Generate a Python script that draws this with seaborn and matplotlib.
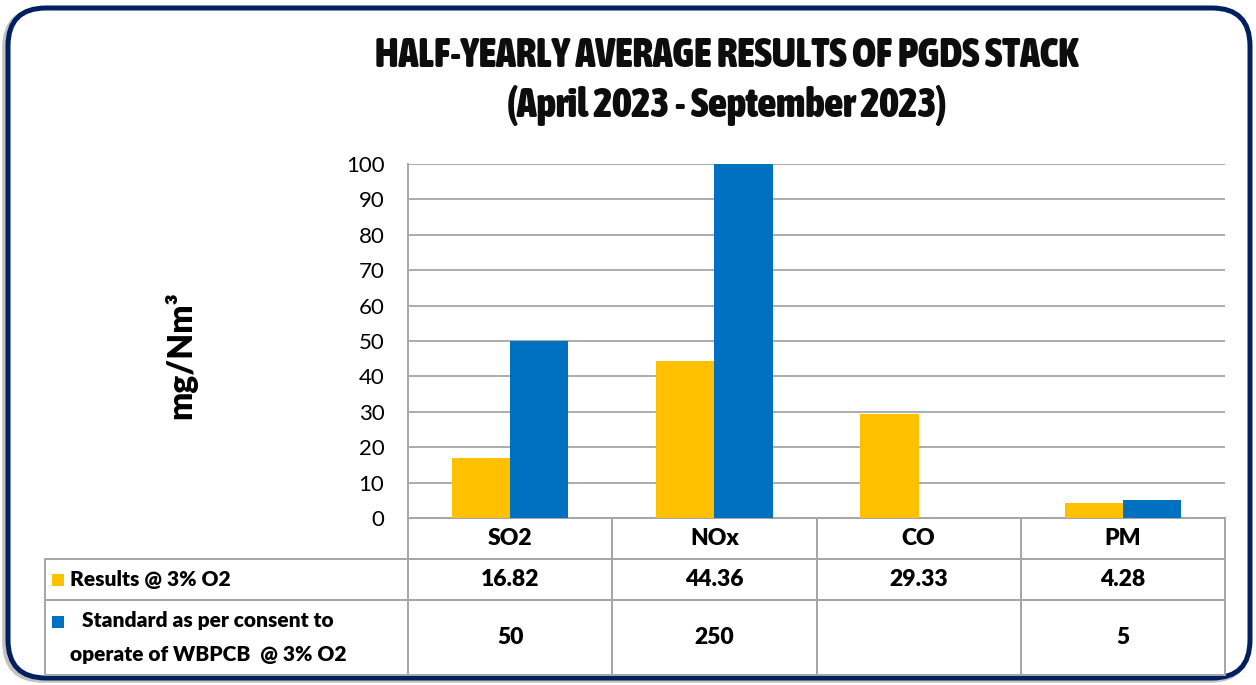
import matplotlib
matplotlib.use("Agg")
import matplotlib.pyplot as plt
from matplotlib import font_manager
from matplotlib.font_manager import FontProperties
from matplotlib.patches import FancyBboxPatch, Rectangle
import seaborn as sns
import pandas as pd
import numpy as np

# ---------------- data ----------------
categories = ["SO2", "NOx", "CO", "PM"]
series_names = ["Results @ 3% O2", "Standard as per consent to\noperate of WBPCB  @ 3% O2"]
results = [16.82, 44.36, 29.33, 4.28]
standard = [50, 250, np.nan, 5]
results_txt = ["16.82", "44.36", "29.33", "4.28"]
standard_txt = ["50", "250", "", "5"]
yticks = [0, 10, 20, 30, 40, 50, 60, 70, 80, 90, 100]
title_lines = ["HALF-YEARLY AVERAGE RESULTS OF PGDS STACK", "(April 2023 - September 2023)"]
ylabel = "mg/Nm³"

YELLOW = "#FFC000"
BLUE = "#0070C0"
GRID = "#A6A6A6"
NAVY = "#002060"

sns.set_theme(style="white")
fm_list = font_manager.fontManager.ttflist
avail = {f.name for f in fm_list}
body_font = "Lato" if "Lato" in avail else "DejaVu Sans"
plt.rcParams["font.family"] = [body_font, "DejaVu Sans"]

# find a condensed / narrow bold face for the title if one exists
title_fp = FontProperties(family=body_font, weight="black")
def _w(f):
    try:
        return int(f.weight)
    except Exception:
        return {"bold": 700, "heavy": 800, "black": 900}.get(str(f.weight), 400)
cands = [f for f in fm_list if ("Condensed" in f.name or "Narrow" in f.name
                                or str(f.stretch) in ("condensed", "semi-condensed",
                                                      "extra-condensed", "ultra-condensed",
                                                      "75", "62", "50"))
         and "Italic" not in f.fname and "Oblique" not in f.fname and f.style == "normal"]
if cands:
    cands.sort(key=lambda f: -_w(f))
    title_fp = FontProperties(fname=cands[0].fname)

df = pd.DataFrame({
    "Pollutant": categories * 2,
    "Series": [series_names[0]] * 4 + [series_names[1]] * 4,
    "Value": results + standard,
})

W, H = 1256, 685
fig = plt.figure(figsize=(W / 100, H / 100), dpi=100)
fig.patch.set_facecolor("white")

# rounded frame with slight shadow
shadow = FancyBboxPatch((0.05, 0.05), 12.43, 6.70, boxstyle="round,pad=0,rounding_size=0.38",
                        transform=fig.dpi_scale_trans, facecolor="none", edgecolor="#9A9A9A",
                        linewidth=4, alpha=0.6, zorder=-3)
fig.patches.append(shadow)
frame = FancyBboxPatch((0.08, 0.07), 12.42, 6.70, boxstyle="round,pad=0,rounding_size=0.38",
                       transform=fig.dpi_scale_trans, facecolor="white", edgecolor=NAVY,
                       linewidth=3.6, zorder=-2)
fig.patches.append(frame)

ax = fig.add_axes([408 / W, 1 - 518 / H, (1225 - 408) / W, (518 - 164) / H])
ax.set_facecolor("none")
sns.barplot(data=df, x="Pollutant", y="Value", hue="Series", hue_order=series_names,
            order=categories, palette=[YELLOW, BLUE], width=0.57, saturation=1,
            legend=False, ax=ax, errorbar=None, zorder=3, linewidth=0)
ax.set_ylim(0, 100)
ax.set_xlim(-0.5, len(categories) - 0.5)
ax.set_yticks(yticks)
ax.set_yticklabels([str(v) for v in yticks], fontsize=16, color="black")
ax.tick_params(axis="y", length=0, pad=17)
ax.tick_params(axis="x", length=0, labelbottom=False)
ax.set_xlabel("")
ax.set_ylabel("")
ax.yaxis.grid(True, color=GRID, linewidth=1.3, zorder=0)
ax.set_axisbelow(True)
for s in ["top", "right"]:
    ax.spines[s].set_visible(False)
for s in ["left", "bottom"]:
    ax.spines[s].set_color(GRID)
    ax.spines[s].set_linewidth(1.4)

# data table under the chart
cell_text = [[""] + categories,
             [series_names[0]] + results_txt,
             [series_names[1]] + standard_txt]
ax_w_px = 1225 - 408
ax_h_px = 518 - 164
col_px = [363] + [ax_w_px / 4] * 4
row_px = [41, 41, 75]
tbl = ax.table(cellText=cell_text, cellLoc="center",
               colWidths=[c / sum(col_px) for c in col_px],
               bbox=[(45 - 408) / ax_w_px, -sum(row_px) / ax_h_px,
                     sum(col_px) / ax_w_px, sum(row_px) / ax_h_px])
tbl.auto_set_font_size(False)
num_fp = FontProperties(family=[body_font, "DejaVu Sans"], weight="heavy", size=16.5)
lab_fp = FontProperties(family=[body_font, "DejaVu Sans"], weight="heavy", size=15)
for (r, c), cell in tbl.get_celld().items():
    cell.set_edgecolor(GRID)
    cell.set_linewidth(1.4)
    cell.set_facecolor("none")
    cell.set_height(row_px[r] / sum(row_px))
    txt = cell.get_text()
    txt.set_fontproperties(num_fp)
    txt.set_color("black")
    if c == 0:
        if r == 0:
            cell.visible_edges = ""
        else:
            txt.set_fontproperties(lab_fp)
            cell._loc = "left"
            cell.PAD = 25 / 363
            txt.set_horizontalalignment("left")
            txt.set_multialignment("center")
            txt.set_linespacing(1.95)

# legend keys in the table
fig.patches.append(Rectangle((52 / W, 1 - 586 / H), 12 / W, 12 / H, transform=fig.transFigure,
                             facecolor=YELLOW, edgecolor="none", zorder=5))
fig.patches.append(Rectangle((52 / W, 1 - 628 / H), 12 / W, 12 / H, transform=fig.transFigure,
                             facecolor=BLUE, edgecolor="none", zorder=5))

# y label
fig.text(181 / W, 1 - 355 / H, ylabel, rotation=90, ha="center", va="center",
         fontsize=24, fontweight="heavy", color="black")

# title, sized to the reference width
t1 = fig.text(727 / W, 1 - 56 / H, title_lines[0], ha="center", va="center",
              fontproperties=title_fp, color="#0D0D0D")
t2 = fig.text(727 / W, 1 - 106 / H, title_lines[1], ha="center", va="center",
              fontproperties=title_fp, color="#0D0D0D")
t1.set_fontsize(24)
t2.set_fontsize(24)
fig.canvas.draw()
r = fig.canvas.get_renderer()
w1 = t1.get_window_extent(r).width
fs = 24 * 705 / w1
t1.set_fontsize(fs)
t2.set_fontsize(fs)

fig.savefig("out.png", dpi=100, facecolor="white")
